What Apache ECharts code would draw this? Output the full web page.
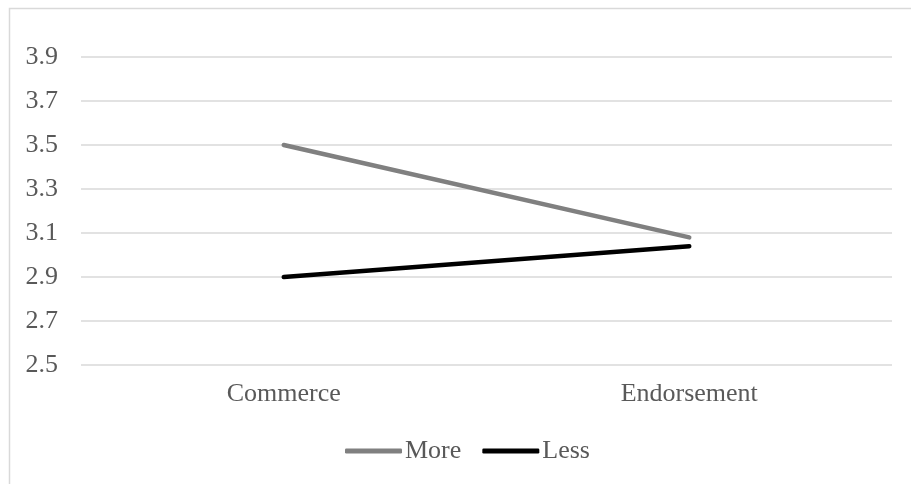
<!DOCTYPE html>
<html>
<head>
<meta charset="utf-8">
<script src="https://cdn.jsdelivr.net/npm/echarts@6/dist/echarts.min.js"></script>
<style>html,body{margin:0;padding:0;background:#fff}#c{width:911px;height:484px}</style>
</head>
<body>
<div id="c"></div>
<script>
const categories = ['Commerce', 'Endorsement'];
const moreValues = [3.5, 3.08];
const lessValues = [2.9, 3.04];
const yMin = 2.5, yMax = 3.9, yStep = 0.2;

const font = '"Liberation Serif", "Times New Roman", serif';
const chart = echarts.init(document.getElementById('c'), null, {renderer: 'canvas'});
chart.setOption({
  animation: false,
  backgroundColor: '#fff',
  graphic: [{
    type: 'rect', left: 7, top: 6, silent: true,
    shape: {x: 0, y: 0, width: 920, height: 500},
    style: {fill: 'none', stroke: '#d9d9d9', lineWidth: 1.5}
  }],
  grid: {left: 81, right: 19, top: 57, bottom: 119, containLabel: false},
  legend: {
    top: 438, left: 345, padding: 0,
    itemWidth: 57, itemHeight: 5, itemGap: 21,
    textStyle: {fontFamily: font, fontSize: 26, color: '#595959', padding: [0, 0, 0, -2]},
    data: [
      {name: 'More', icon: 'roundRect', itemStyle: {color: '#808080'}},
      {name: 'Less', icon: 'roundRect', itemStyle: {color: '#000000'}}
    ]
  },
  xAxis: {
    type: 'category', data: categories, boundaryGap: true,
    axisLine: {show: false}, axisTick: {show: false},
    axisLabel: {fontFamily: font, fontSize: 26, color: '#595959', margin: 16}
  },
  yAxis: {
    type: 'value', min: yMin, max: yMax, interval: yStep,
    axisLine: {show: false}, axisTick: {show: false},
    splitLine: {lineStyle: {color: '#d9d9d9', width: 1.5}},
    axisLabel: {fontFamily: font, fontSize: 26, color: '#595959', margin: 23,
      formatter: v => v.toFixed(1)}
  },
  series: [
    {name: 'More', type: 'line', data: moreValues, symbol: 'none',
      lineStyle: {color: '#808080', width: 4.5, cap: 'round'}, itemStyle: {color: '#808080'}},
    {name: 'Less', type: 'line', data: lessValues, symbol: 'none',
      lineStyle: {color: '#000000', width: 4.5, cap: 'round'}, itemStyle: {color: '#000000'}}
  ]
});
</script>
</body>
</html>
